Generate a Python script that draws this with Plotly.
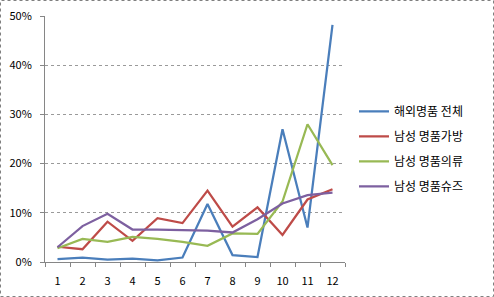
import plotly.graph_objects as go

months = [str(i) for i in range(1, 13)]
overall = [0.006, 0.009, 0.005, 0.007, 0.0035, 0.009, 0.118, 0.014, 0.010, 0.270, 0.070, 0.482]
bags = [0.031, 0.026, 0.082, 0.043, 0.089, 0.079, 0.145, 0.072, 0.111, 0.055, 0.127, 0.148]
clothes = [0.028, 0.047, 0.041, 0.051, 0.047, 0.041, 0.033, 0.058, 0.057, 0.123, 0.280, 0.197]
shoes = [0.030, 0.073, 0.098, 0.066, 0.066, 0.065, 0.064, 0.060, 0.087, 0.119, 0.136, 0.141]

names = ["해외명품 전체", "남성 명품가방", "남성 명품의류", "남성 명품슈즈"]
colors = ["#4A7EBB", "#BE4B48", "#98B954", "#7D60A0"]
series = [overall, bags, clothes, shoes]

W, H = 494, 297
L, R, T, B = 45, 149, 16, 35
pw, ph = W - L - R, H - T - B

fig = go.Figure()
for i, (n, c, s) in enumerate(zip(names, colors, series)):
    fig.add_trace(go.Scatter(x=months, y=s, name=n, mode="lines",
                             legendgroup=f"g{i}",
                             line=dict(color=c, width=2.25)))

font = "Noto Sans CJK KR"
fig.update_layout(
    width=W, height=H,
    margin=dict(l=L, r=R, t=T, b=B, autoexpand=False),
    paper_bgcolor="white", plot_bgcolor="white",
    font=dict(family=font, size=11, color="#000000"),
    showlegend=True,
    legend=dict(x=1.03, y=0.46, xanchor="left", yanchor="middle",
                font=dict(size=12, family=font), tracegroupgap=6,
                itemwidth=30, bgcolor="rgba(0,0,0,0)"),
    xaxis=dict(type="category", range=[-0.5, 11.5], showgrid=False, showline=True,
               linecolor="#868686", linewidth=1, ticks="outside",
               tickson="boundaries", ticklen=4, tickcolor="#868686",
               ticklabelstandoff=9, automargin=False,
               tickfont=dict(size=11, family=font), zeroline=False),
    yaxis=dict(range=[0, 0.5], dtick=0.1, tickformat=".0%",
               showgrid=True, gridcolor="#9A9A9A", griddash="dot",
               gridwidth=1, showline=True, linecolor="#868686",
               linewidth=1, ticks="outside", ticklen=4, tickcolor="#868686",
               ticklabelstandoff=6, automargin=False,
               tickfont=dict(size=11, family=font), zeroline=False),
    shapes=[dict(type="rect", xref="paper", yref="paper",
                 x0=(0.5 - L) / pw, x1=(W - 0.5 - L) / pw,
                 y0=(ph + T - (H - 0.5)) / ph, y1=(ph + T - 0.5) / ph,
                 line=dict(color="#808080", width=1, dash="dot"),
                 fillcolor="rgba(0,0,0,0)", layer="above")],
)

fig.write_html("out.html")
